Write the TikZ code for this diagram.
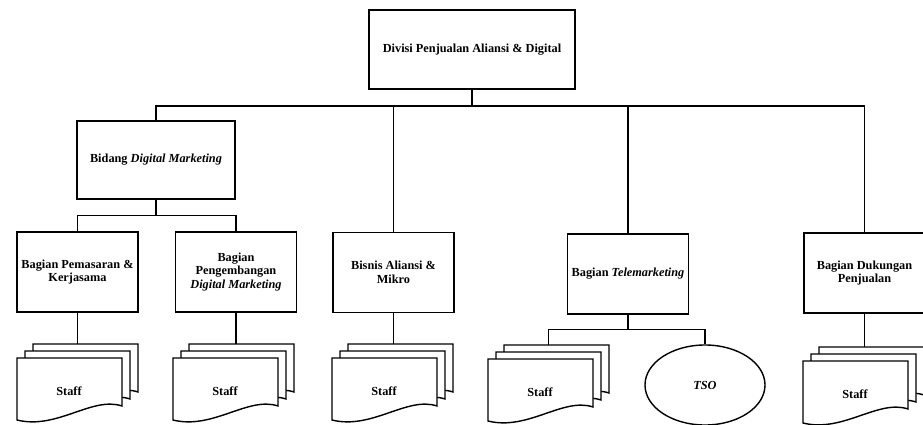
\documentclass[tikz,border=0pt]{standalone}
\usepackage{fontspec}
\setmainfont{Liberation Serif}
\usetikzlibrary{shapes.geometric}

\newcommand{\staffpile}[2]{%
\begin{scope}[shift={(#2)}]
\foreach \dx/\dy in {16/14,8/7,0/0}
  \draw[page] (\dx,-\dy) -- (\dx+105,-\dy) -- (\dx+105,48-\dy) .. controls (\dx+75,38-\dy) and (\dx+40,72-\dy) .. (\dx,62-\dy) -- cycle;
\node[stafftext] (#1) at (52,33) {Staff};
\coordinate (#1-top) at (60.5,-14);
\end{scope}}

\begin{document}
\begin{tikzpicture}[x=0.03cm, y=-0.03cm, line width=1.2pt,
  font=\fontsize{10.5}{11.5}\selectfont\bfseries,
  unit/.style={draw, align=center, minimum width=3.63cm, minimum height=2.4cm},
  page/.style={draw, fill=white},
  stafftext/.style={inner sep=1pt}]
\useasboundingbox (0,0) rectangle (923,425);
\node[unit, minimum width=6.18cm, minimum height=2.37cm] (div) at (472,49.5) {Divisi Penjualan Aliansi \& Digital};
\node[unit, minimum width=4.74cm, minimum height=2.34cm] (bid) at (156,160) {Bidang \textit{Digital Marketing}};
\node[unit] (pem) at (77.5,272) {Bagian Pemasaran \&\\Kerjasama};
\node[unit] (pen) at (236,272) {Bagian\\Pengembangan\\\textit{Digital Marketing}};
\node[unit] (ali) at (393.5,272.5) {Bisnis Aliansi \&\\Mikro};
\node[unit] (tel) at (628,274) {Bagian \textit{Telemarketing}};
\node[unit] (duk) at (864.5,273) {Bagian Dukungan\\Penjualan};
\staffpile{sa}{17,358}
\staffpile{sb}{173,358}
\staffpile{sc}{332,358}
\staffpile{sd}{488,359}
\staffpile{se}{803,361}
\node[draw, ellipse, minimum width=3.6cm, minimum height=2.4cm, font=\fontsize{10.5}{11.5}\selectfont\bfseries\itshape] (tso) at (705,385) {TSO};
\coordinate (bus) at (472,106);
\draw (div.south) -- (bus);
\foreach \n in {bid,ali,tel,duk} \draw (bus) -| (\n.north);
\draw (bid.south) -- ++(0,16) coordinate (sub);
\foreach \n in {pem,pen} \draw (sub) -| (\n.north);
\foreach \u/\s in {pem/sa,pen/sb,ali/sc,duk/se} \draw (\u.south) -- (\u.south |- \s-top);
\draw (tel.south) -- ++(0,15) coordinate (tb);
\draw (tb) -| (sd-top);
\draw (tb) -| (tso.north);
\end{tikzpicture}
\end{document}
